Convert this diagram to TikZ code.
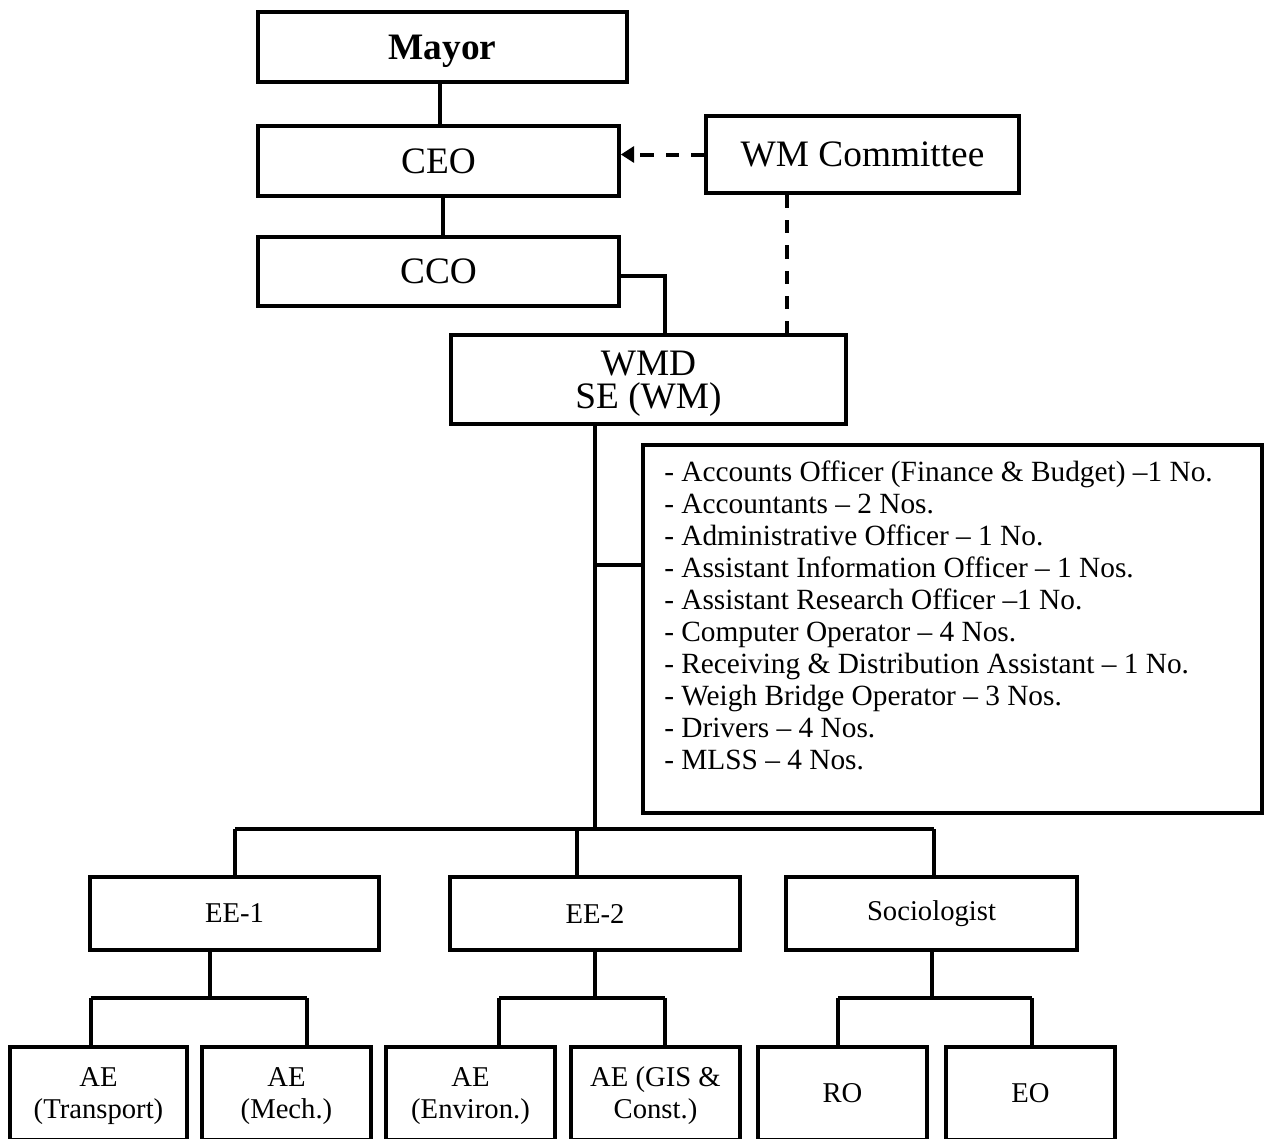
\documentclass[tikz,border=0pt]{standalone}
\usepackage{fontspec}
\setmainfont{Liberation Serif}
\usetikzlibrary{arrows.meta,calc}
\begin{document}
\begin{tikzpicture}[x=0.75pt,y=-0.75pt,
  box/.style={draw, line width=2.7pt, inner sep=0pt, align=center},
  big/.style={font=\fontsize{28}{25}\selectfont},
  small/.style={font=\fontsize{21.5}{24}\selectfont},
  link/.style={line width=2.3pt},
  trunk/.style={line width=3.4pt},
  dashlink/.style={line width=3pt, dash pattern=on 10pt off 9pt},
]
\useasboundingbox (0,0) rectangle (1266,1138);
\clip (0,0) rectangle (1266,1138);

% top of the hierarchy
\node[box, big, text depth=0pt, minimum width=276.75pt, minimum height=52.5pt] (mayor) at (442.5,47) {\textbf{Mayor}};
\node[box, big, minimum width=270.75pt, minimum height=52.5pt] (ceo) at (438.5,161) {CEO};
\node[box, big, minimum width=270.75pt, minimum height=51.75pt] (cco) at (438.5,271.5) {CCO};
\node[box, big, minimum width=234.75pt, minimum height=57.75pt] (wmc) at (862.5,154.5) {WM Committee};
\node[box, minimum width=296.25pt, minimum height=66.75pt] (wmd) at (648.5,379.5) {};
\node[big, anchor=base, inner sep=0pt] (wmdname) at (648.5,375) {WMD};
\node[big, anchor=base, inner sep=0pt] (wmdhead) at (648.5,408) {SE (WM)};

% support staff
\node[box, minimum width=464.25pt, minimum height=276pt] (staff) at (952.5,629) {};
\node[anchor=north west, inner sep=0pt, align=left, font=\fontsize{22}{24}\selectfont] (stafftext) at (664,461) {%
- Accounts Officer (Finance \& Budget) –1 No.\\
- Accountants – 2 Nos.\\
- Administrative Officer – 1 No.\\
- Assistant Information Officer – 1 Nos.\\
- Assistant Research Officer –1 No.\\
- Computer Operator – 4 Nos.\\
- Receiving \& Distribution Assistant – 1 No.\\
- Weigh Bridge Operator – 3 Nos.\\
- Drivers – 4 Nos.\\
- MLSS – 4 Nos.};

% second level
\node[box, small, minimum width=216.75pt, minimum height=54.75pt] (ee1) at (234.5,913.5) {EE-1};
\node[box, small, minimum width=217.5pt, minimum height=54.75pt] (ee2) at (595,913.5) {EE-2};
\node[box, small, minimum width=218.25pt, minimum height=54.75pt] (soc) at (931.5,913.5) {Sociologist};

% third level
\tikzset{leaf/.style={box, small, minimum width=126.75pt, minimum height=69.75pt}}
\node[leaf, minimum width=132.75pt] (aet) at (98.5,1093.5) {};
\node[leaf] (aem) at (286.5,1093.5) {};
\node[leaf] (aee) at (470.5,1093.5) {};
\node[leaf] (aeg) at (655.5,1093.5) {};
\node[leaf] (ro) at (842.5,1093.5) {RO};
\node[leaf] (eo) at (1030.5,1093.5) {EO};
\tikzset{leaftext/.style={small, align=center, inner sep=0pt}}
\node[leaftext] (aett) at (98.5,1096) {AE\\(Transport)};
\node[leaftext] (aemt) at (286.5,1096) {AE\\(Mech.)};
\node[leaftext] (aeet) at (470.5,1096) {AE\\(Environ.)};
\node[leaftext] (aegt) at (655.5,1096) {AE (GIS \&\\Const.)};

% junction points
\coordinate (ccoturn) at (665,276);
\coordinate (wmcdrop) at (787,0);
\coordinate (trunkx) at (595,0);
\coordinate (stafftap) at (595,565);
\coordinate (busL) at (235,829);
\coordinate (busR) at (934,829);
\coordinate (busM) at (595,829);
\coordinate (ee1bus) at (210,998);
\coordinate (ee1L) at (91,998);
\coordinate (ee1R) at (307,998);
\coordinate (ee2bus) at (595,998);
\coordinate (ee2L) at (499,998);
\coordinate (ee2R) at (665,998);
\coordinate (socbus) at (932,998);
\coordinate (socL) at (838,998);
\coordinate (socR) at (1032,998);

% upper connectors
\draw[link] (mayor.south -| 440,0) -- (ceo.north -| 440,0);
\draw[link] (ceo.south -| 443,0) -- (cco.north -| 443,0);
\draw[link] (cco.east |- ccoturn) -- (ccoturn) -- (ccoturn |- wmd.north);
\draw[dashlink, -{Triangle[length=10pt,width=12pt]}] (wmc.west) -- (wmc.west -| ceo.east);
\draw[dashlink] (wmc.south -| wmcdrop) -- (wmd.north -| wmcdrop);

% trunk and main bus
\draw[trunk] (wmd.south -| trunkx) -- (busM);
\draw[link] (stafftap) -- (stafftap -| staff.west);
\draw[link] (busL) -- (busR);
\draw[link] (busL) -- (busL |- ee1.north);
\draw[link] (ee2.north -| 577,0) -- (577,829);
\draw[link] (busR) -- (busR |- soc.north);

% EE-1 branch
\draw[link] (ee1.south -| ee1bus) -- (ee1bus);
\draw[link] (ee1L) -- (ee1R);
\draw[link] (ee1L) -- (ee1L |- aet.north);
\draw[link] (ee1R) -- (ee1R |- aem.north);

% EE-2 branch
\draw[link] (ee2.south -| ee2bus) -- (ee2bus);
\draw[link] (ee2L) -- (ee2R);
\draw[link] (ee2L) -- (ee2L |- aee.north);
\draw[link] (ee2R) -- (ee2R |- aeg.north);

% Sociologist branch
\draw[link] (soc.south -| socbus) -- (socbus);
\draw[link] (socL) -- (socR);
\draw[link] (socL) -- (socL |- ro.north);
\draw[link] (socR) -- (socR |- eo.north);
\end{tikzpicture}
\end{document}
